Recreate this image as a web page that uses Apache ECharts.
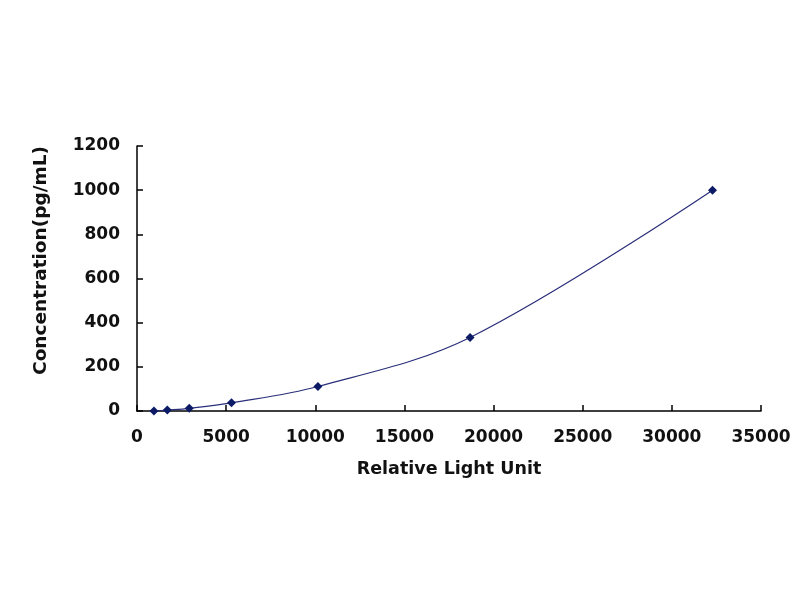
<!DOCTYPE html>
<html>
<head>
<meta charset="utf-8">
<script src="https://cdn.jsdelivr.net/npm/echarts@6/dist/echarts.min.js"></script>
<style>html,body{margin:0;padding:0;background:#fff}#c{width:800px;height:600px}</style>
</head>
<body>
<div id="c"></div>
<script>
var rlu = [950, 1700, 2930, 5300, 10150, 18680, 32280];
var concentration = [0, 4.1, 12.3, 37, 111, 333, 1000];
var xTicks = [0, 5000, 10000, 15000, 20000, 25000, 30000, 35000];
var yTicks = [0, 200, 400, 600, 800, 1000, 1200];

var pts = rlu.map(function (x, i) { return [x, concentration[i]]; });
var chart = echarts.init(document.getElementById('c'));
var fontFam = 'DejaVu Sans, sans-serif';
chart.setOption({
  animation: false,
  backgroundColor: '#fff',
  grid: { left: 137, right: 39, top: 146, bottom: 189 },
  xAxis: {
    type: 'value', min: xTicks[0], max: xTicks[xTicks.length - 1], interval: xTicks[1] - xTicks[0],
    name: 'Relative Light Unit', nameLocation: 'middle', nameGap: 49,
    nameTextStyle: { fontFamily: fontFam, fontWeight: 'bold', fontSize: 17.5, color: '#111' },
    axisLine: { lineStyle: { color: '#000', width: 1.5 } },
    axisTick: { inside: true, length: 6, lineStyle: { color: '#000', width: 1.5 } },
    axisLabel: { margin: 18, fontFamily: fontFam, fontWeight: 'bold', fontSize: 17, color: '#111',
      formatter: function (v) { return String(v); } },
    splitLine: { show: false }
  },
  yAxis: {
    type: 'value', min: yTicks[0], max: yTicks[yTicks.length - 1], interval: yTicks[1] - yTicks[0],
    name: 'Concentration(pg/mL)', nameLocation: 'middle', nameGap: 86, nameRotate: 90,
    nameTextStyle: { fontFamily: fontFam, fontWeight: 'bold', fontSize: 18.5, color: '#111',
      padding: [0, 0, 0, 36] },
    axisLine: { show: true, lineStyle: { color: '#000', width: 1.5 } },
    axisTick: { show: true, inside: true, length: 6, lineStyle: { color: '#000', width: 1.5 } },
    axisLabel: { margin: 17, fontFamily: fontFam, fontWeight: 'bold', fontSize: 17, color: '#111',
      formatter: function (v) { return String(v); } },
    splitLine: { show: false }
  },
  series: [{
    type: 'line',
    data: pts,
    smooth: 0.35,
    symbol: 'diamond',
    symbolSize: 9,
    itemStyle: { color: '#0d1a66' },
    lineStyle: { color: '#2a2f7a', width: 1.2 }
  }]
});
</script>
</body>
</html>
